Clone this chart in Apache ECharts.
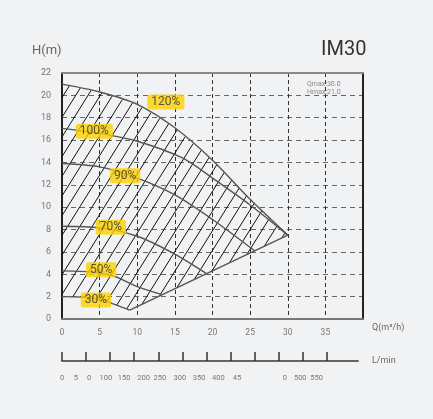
<!DOCTYPE html>
<html>
<head>
<meta charset="utf-8">
<script src="https://cdn.jsdelivr.net/npm/echarts@6/dist/echarts.min.js"></script>
<style>
html, body { margin: 0; padding: 0; background: #f1f2f4; }
#chart { width: 433px; height: 419px; }
</style>
</head>
<body>
<div id="chart"></div>
<script>
// pump curves, Q in m3/h, H in m
const q120 = [0, 5, 10, 15, 20, 25, 30]
const h120 = [21.0, 20.3, 19.2, 17.1, 14.2, 10.7, 7.5]
const q100 = [0, 5, 10, 16, 20, 25, 30]
const h100 = [17.05, 16.6, 15.9, 14.4, 12.6, 10.2, 7.5]
const q90 = [0, 5, 10, 15, 20, 25.6]
const h90 = [13.9, 13.6, 12.6, 11.1, 8.9, 6.1]
const q70 = [0, 5, 10, 15, 19.2]
const h70 = [8.3, 8.15, 7.4, 5.8, 4.05]
const q50 = [0, 4, 7, 10, 13.2]
const h50 = [4.3, 4.2, 3.8, 2.9, 2.2]
const q30 = [0, 3, 5.5, 7, 9]
const h30 = [2.0, 1.95, 1.7, 1.3, 0.8]
// lower limit of the working range
const qBound = [9, 30]
const hBound = [0.8, 7.5]

const speedNames = ['120%', '100%', '90%', '70%', '50%', '30%']
const labelQ = [13.8, 4.3, 8.4, 6.5, 5.2, 4.5]
const labelH = [19.4, 16.8, 12.8, 8.2, 4.4, 1.7]

// second scale, as printed
const lpmTicks = [0, 1, 2, 3, 4, 5, 6, 7, 8, 9, 10, 11]
const lpmLabels = ['0', '5', '0', '100', '150', '200', '250', '300', '350', '400', '45', '0', '500', '550']
const lpmLabelPos = [0, 0.58, 1.13, 1.82, 2.58, 3.39, 4.07, 4.9, 5.7, 6.5, 7.27, 9.26, 9.9, 10.58]

const chart = echarts.init(document.getElementById('chart'))

const toPairs = (q, h) => q.map((v, i) => [v, h[i]])

const curve = (name, q, h) => ({
  type: 'line',
  name: name,
  data: toPairs(q, h),
  symbol: 'none',
  smooth: 0.3,
  silent: true,
  z: 4,
  lineStyle: { color: '#555', width: 1.4 }
})

// diagonal hatching of the working range
const renderHatch = (params, api) => {
  const poly = []
  q120.forEach((q, i) => poly.push(api.coord([q, h120[i]])))
  for (let i = qBound.length - 1; i >= 0; i--) poly.push(api.coord([qBound[i], hBound[i]]))
  for (let i = q30.length - 1; i >= 0; i--) poly.push(api.coord([q30[i], h30[i]]))

  const k = 1.6 // dy/dx in pixels
  const step = 12.3 // horizontal spacing
  let bMin = Infinity, bMax = -Infinity
  poly.forEach(p => {
    const b = p[1] + k * p[0]
    bMin = Math.min(bMin, b)
    bMax = Math.max(bMax, b)
  })
  const lines = []
  const start = Math.ceil(bMin / (k * step)) * k * step
  for (let b = start; b <= bMax; b += k * step) {
    const xs = []
    for (let i = 0; i < poly.length; i++) {
      const p1 = poly[i]
      const p2 = poly[(i + 1) % poly.length]
      const f1 = p1[1] + k * p1[0] - b
      const f2 = p2[1] + k * p2[0] - b
      if ((f1 > 0) !== (f2 > 0)) {
        const t = f1 / (f1 - f2)
        xs.push(p1[0] + t * (p2[0] - p1[0]))
      }
    }
    xs.sort((a, c) => a - c)
    for (let j = 0; j + 1 < xs.length; j += 2) {
      lines.push({
        type: 'line',
        shape: { x1: xs[j], y1: b - k * xs[j], x2: xs[j + 1], y2: b - k * xs[j + 1] },
        style: { stroke: '#111', lineWidth: 1 }
      })
    }
  }
  return { type: 'group', children: lines }
}

const option = {
  backgroundColor: '#f1f2f4',
  animation: false,
  textStyle: { fontFamily: 'Roboto' },
  title: [
    { text: 'H(m)', left: 27, top: 39, textStyle: { fontSize: 13, fontWeight: 'normal', color: '#666' } },
    { text: 'IM30', left: 316, top: 35, textStyle: { fontSize: 20, fontWeight: 'normal', color: '#333' } },
    { text: 'Qmax:30.0\nHmax:21.0', left: 302, top: 75, textStyle: { fontSize: 7, lineHeight: 8, fontWeight: 'normal', color: '#888' } }
  ],
  grid: [
    { left: 62, top: 73, width: 301, height: 246 },
    { left: 62, top: 360, width: 296, height: 1 }
  ],
  xAxis: [
    {
      type: 'value', gridIndex: 0, min: 0, max: 40, interval: 5,
      name: 'Q(m³/h)', nameLocation: 'end', nameGap: 9,
      nameTextStyle: { color: '#666', fontSize: 9, verticalAlign: 'top', padding: [4, 0, 0, 0] },
      axisLine: { lineStyle: { color: '#777', width: 2 } },
      axisTick: { show: false },
      axisLabel: { color: '#777', fontSize: 8.5, margin: 9, showMaxLabel: false },
      splitLine: { lineStyle: { color: '#333', type: [4, 3], width: 1 } }
    },
    {
      type: 'value', gridIndex: 1, min: 0, max: 12.3,
      name: 'L/min', nameLocation: 'end', nameGap: 14,
      nameTextStyle: { color: '#666', fontSize: 9, padding: [0, 0, 6, 0] },
      axisLine: { lineStyle: { color: '#666', width: 2 } },
      axisTick: { inside: true, length: 9, customValues: lpmTicks, lineStyle: { color: '#333', width: 1.5 } },
      axisLabel: {
        color: '#777', fontSize: 7.5, margin: 13,
        hideOverlap: false,
        customValues: lpmLabelPos,
        formatter: v => lpmLabels[lpmLabelPos.indexOf(v)]
      },
      splitLine: { show: false }
    },
    {
      type: 'value', gridIndex: 0, min: 0, max: 40, position: 'top',
      axisLine: { onZero: false, lineStyle: { color: '#888', width: 2 } },
      axisTick: { show: false }, axisLabel: { show: false }, splitLine: { show: false }
    }
  ],
  yAxis: [
    {
      type: 'value', gridIndex: 0, min: 0, max: 22, interval: 2,
      axisLine: { show: true, lineStyle: { color: '#222', width: 2 } },
      axisTick: { show: false },
      axisLabel: { color: '#777', fontSize: 9, margin: 11 },
      splitLine: { lineStyle: { color: '#666', type: [5, 4], width: 1.2 } }
    },
    { type: 'value', gridIndex: 1, show: false },
    {
      type: 'value', gridIndex: 0, min: 0, max: 22, position: 'right',
      axisLine: { show: true, onZero: false, lineStyle: { color: '#222', width: 2 } },
      axisTick: { show: false }, axisLabel: { show: false }, splitLine: { show: false }
    }
  ],
  series: [
    {
      type: 'custom',
      xAxisIndex: 0,
      yAxisIndex: 0,
      silent: true,
      z: 3,
      data: [0],
      renderItem: renderHatch
    },
    curve('120%', q120, h120),
    curve('100%', q100, h100),
    curve('90%', q90, h90),
    curve('70%', q70, h70),
    curve('50%', q50, h50),
    curve('30%', q30, h30),
    {
      type: 'line',
      name: 'limit',
      data: toPairs(qBound, hBound),
      symbol: 'none',
      silent: true,
      z: 4,
      lineStyle: { color: '#555', width: 1.4 }
    },
    {
      type: 'scatter',
      symbolSize: 0,
      silent: true,
      z: 6,
      data: speedNames.map((n, i) => ({ name: n, value: [labelQ[i], labelH[i]] })),
      label: {
        show: true,
        position: 'inside',
        formatter: p => p.name,
        color: '#333',
        fontSize: 12,
        backgroundColor: '#fcd000',
        padding: [2, 4, 1, 4],
        borderRadius: 2
      }
    }
  ]
}

chart.setOption(option)
</script>
</body>
</html>
